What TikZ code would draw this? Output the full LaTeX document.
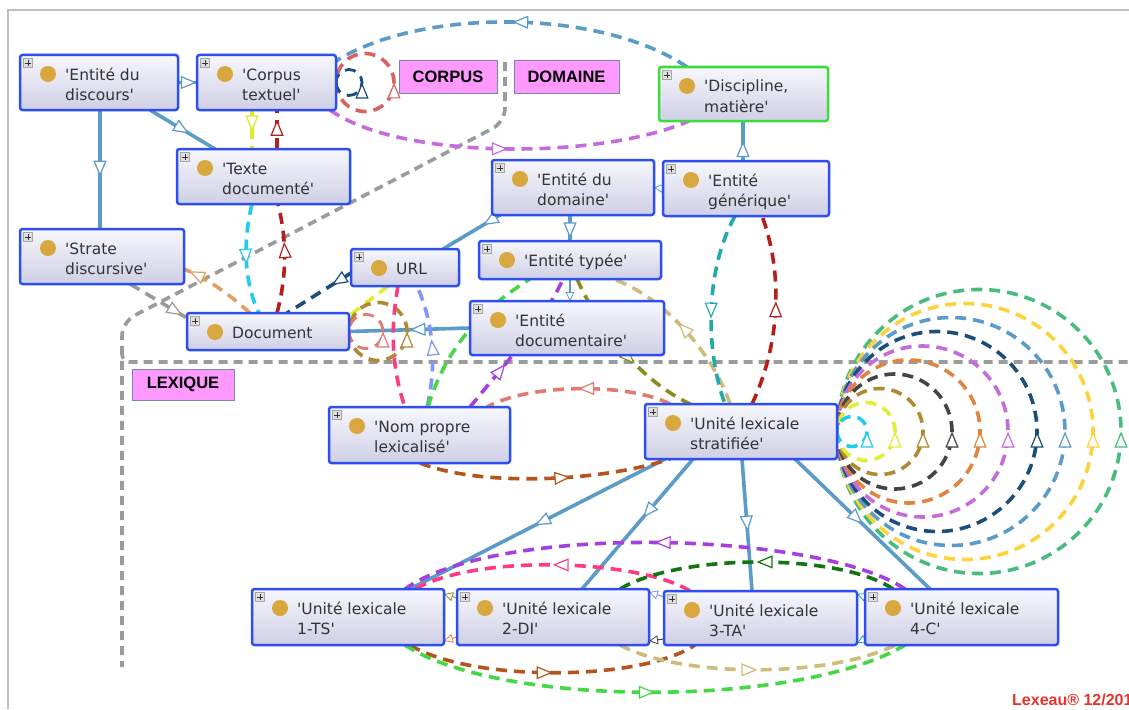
\documentclass[tikz,border=0pt]{standalone}
\usepackage{fontspec}
\setmainfont{DejaVu Sans}[Ligatures=TeXOff]
\newfontfamily\lblfont{Liberation Sans}
\usetikzlibrary{arrows.meta,decorations.markings,fit,backgrounds}
\pgfdeclarelayer{bottom}
\pgfsetlayers{bottom,background,main}
\definecolor{steel}{HTML}{5B9BC8}
\definecolor{nodeblue}{HTML}{2C4EF2}
\definecolor{discgreen}{HTML}{3EDB3E}
\definecolor{topfill}{HTML}{F7F7FC}
\definecolor{botfill}{HTML}{CFCFE6}
\definecolor{dotgold}{HTML}{D8A73E}
\definecolor{lblpink}{HTML}{FF99FF}
\definecolor{lblborder}{HTML}{7088B8}
\definecolor{bgray}{HTML}{9B9B9B}
\definecolor{framec}{HTML}{C0C0C0}
\definecolor{cNavy}{HTML}{1B4F7A}
\definecolor{cOrchid}{HTML}{C76BDC}
\definecolor{cLRed}{HTML}{D9625E}
\definecolor{cYellow}{HTML}{D8F020}
\definecolor{cDRed}{HTML}{B3201C}
\definecolor{cCyan}{HTML}{22CCEE}
\definecolor{cSandy}{HTML}{E0A060}
\definecolor{cGrayE}{HTML}{999999}
\definecolor{cYG}{HTML}{DDEE33}
\definecolor{cPink}{HTML}{FF3A80}
\definecolor{cPeri}{HTML}{8095F5}
\definecolor{cGreen}{HTML}{44D844}
\definecolor{cPurple}{HTML}{A63FE0}
\definecolor{cOlive}{HTML}{8C8C1E}
\definecolor{cKhaki}{HTML}{CDBC7A}
\definecolor{cTeal}{HTML}{22A9A9}
\definecolor{cSalmon}{HTML}{E27B6F}
\definecolor{cBrown}{HTML}{B5541B}
\definecolor{cDGreen}{HTML}{127512}
\definecolor{cGoldBr}{HTML}{B08932}
\definecolor{cDGray}{HTML}{444444}
\definecolor{cOrange}{HTML}{E0843F}
\definecolor{cGold}{HTML}{FFD23A}
\definecolor{cSea}{HTML}{47BC7C}
\definecolor{lexred}{HTML}{E8332C}
\tikzset{
  clsbox/.style={draw=nodeblue, line width=2.5pt, rounded corners=2.5pt, top color=topfill, bottom color=botfill, inner sep=0pt, outer sep=0pt},
  plusbox/.style={draw=gray!70, fill=gray!25, minimum size=9pt, inner sep=0pt, line width=0.5pt,
     path picture={\draw[line width=0.7pt,black!80] ([xshift=-3pt]path picture bounding box.center) -- ([xshift=3pt]path picture bounding box.center)
       ([yshift=-3pt]path picture bounding box.center) -- ([yshift=3pt]path picture bounding box.center);}},
  golddot/.style={circle, fill=dotgold, minimum size=16pt, inner sep=0pt},
  ntext/.style={anchor=base west, inner sep=0pt, font=\fontsize{15.5}{19}\selectfont, text=black!80},
  lbl/.style={draw=lblborder, fill=lblpink, line width=1pt, inner sep=0pt, font=\lblfont\bfseries\fontsize{16.5}{19}\selectfont},
  sub/.style={draw=steel, line width=3.6pt},
  dsh/.style={line width=3.6pt, dash pattern=on 11pt off 7pt},
  thinl/.style={line width=1pt},
  bound/.style={draw=bgray, line width=3.6pt, dash pattern=on 9pt off 6pt},
  midarr/.style={postaction={decorate,decoration={markings,mark=at position #1 with {\arrow{Triangle[length=16pt,width=13pt,fill=white,line width=1.2pt]}}}}},
  midarr/.default=0.5,
  smallarr/.style={-{Triangle[length=9pt,width=9pt,fill=white,line width=0.8pt]}}
}
\newcommand\ccls[8][]{%
  \node[clsbox,#1, fit={(#3,#4) (#5,#6)}] (#2) {};
  \node[plusbox] (#2p) at (#3+8,#4+8) {};
  \node[golddot] (#2d) at (#3+28,#4+19) {};
  \node[ntext] (#2a) at (#3+45,#4+25) {#7};
  \if\relax\detokenize{#8}\relax\else\node[ntext] (#2b) at (#3+45,#4+45) {#8};\fi
}
\begin{document}
\begin{tikzpicture}[x=1pt,y=-1pt]
\useasboundingbox (0,0) rectangle (1129,709);
\begin{pgfonlayer}{bottom}
\fill[white] (0,0) rectangle (1129,709);
\end{pgfonlayer}

% classes
\ccls{ed}{20}{55}{178}{110}{'Entité du}{discours'}
\ccls{ct}{197}{55}{336}{110}{'Corpus}{textuel'}
\ccls{td}{177}{149}{350}{204}{'Texte}{documenté'}
\ccls{sd}{20}{229}{184}{284}{'Strate}{discursive'}
\ccls{doc}{187}{313}{349}{350}{Document}{}
\ccls{url}{351}{249}{459}{286}{URL}{}
\ccls{edom}{492}{160}{654}{215}{'Entité du}{domaine'}
\ccls{egen}{663}{161}{829}{216}{'Entité}{générique'}
\ccls[draw=discgreen]{disc}{659}{67}{828}{121}{'Discipline,}{matière'}
\ccls{etyp}{479}{241}{661}{279}{'Entité typée'}{}
\ccls{edoc}{470}{301}{664}{355}{'Entité}{documentaire'}
\ccls{npl}{329}{407}{510}{463}{'Nom propre}{lexicalisé'}
\ccls{uls}{645}{404}{837}{459}{'Unité lexicale}{stratifiée'}
\ccls{ul1}{252}{589}{444}{645}{'Unité lexicale}{1-TS'}
\ccls{ul2}{457}{589}{649}{645}{'Unité lexicale}{2-DI'}
\ccls{ul3}{664}{591}{857}{645}{'Unité lexicale}{3-TA'}
\ccls{ul4}{865}{589}{1058}{645}{'Unité lexicale}{4-C'}

% labels
\node[lbl, minimum width=98pt, minimum height=32pt] (corpus) at (448,77) {CORPUS};
\node[lbl, minimum width=105pt, minimum height=32pt] (domaine) at (566.5,77) {DOMAINE};
\node[lbl, minimum width=102pt, minimum height=31pt] (lexique) at (183,384.5) {LEXIQUE};
\node[anchor=base west, inner sep=0pt, text=lexred, font=\lblfont\bfseries\fontsize{16}{18}\selectfont] (lex) at (1012,705) {Lexeau® 12/2018};

\begin{scope}[on background layer]
% frame
\draw[framec, line width=1.2pt] (8,709) -- (8,10) -- (1129,10);
% boundaries
\draw[bound, rounded corners=14pt] (505,62) -- (505,122) -- (122,322) -- (122,667);
\draw[bound, rounded corners=8pt] (122,350) -- (122,362) -- (1129,362);

% subclass links
\draw[sub, midarr=0.99] (ed.east) -- (ct.west);
\draw[sub, midarr=0.6] ([xshift=130pt]ed.south west) -- ([xshift=38pt]td.north west);
\draw[sub, midarr=0.56] ([xshift=80pt]ed.south west) -- ([xshift=80pt]sd.north west);
\draw[sub, midarr=0.5] (edoc.west) -- (doc.east);
\draw[sub, midarr=0.3] ([xshift=8pt]edom.south west) -- ([xshift=92pt]url.north west);
\draw[sub, midarr=0.9] ([xshift=78pt]edom.south west) -- ([xshift=91pt]etyp.north west);
\draw[sub, line width=1.5pt, smallarr] ([xshift=91pt]etyp.south west) -- ([xshift=100pt]edoc.north west);
\draw[sub, line width=1.5pt, smallarr] (egen.west) -- (edom.east);
\draw[sub, midarr=0.5] ([xshift=80pt]egen.north west) -- ([xshift=84pt]disc.south west);
\draw[sub, midarr=0.51] ([xshift=20pt]uls.south west) -- ([xshift=158pt]ul1.north west);
\draw[sub, midarr=0.45] ([xshift=48pt]uls.south west) -- ([xshift=125pt]ul2.north west);
\draw[sub, midarr=0.55] ([xshift=97pt]uls.south west) -- ([xshift=88pt]ul3.north west);
\draw[sub, midarr=0.5] ([xshift=150pt]uls.south west) -- ([xshift=65pt]ul4.north west);

% object property links (upper part)
\draw[dsh, cNavy, midarr=0.3] ([yshift=-24pt]url.north west) -- ([xshift=100pt]doc.north west);
\draw[dsh, steel, midarr=0.5] ([xshift=28pt]disc.north west) .. controls (600,8) and (420,8) .. ([yshift=-6pt]ct.north east);
\draw[dsh, cOrchid, midarr=0.5] ([xshift=-6pt]ct.south east) .. controls (400,160) and (600,160) .. ([xshift=30pt]disc.south west);
\draw[dsh, cLRed, midarr=0.5] (ct.east) arc[start angle=180, end angle=-180, radius=29];
\draw[dsh, cNavy, line width=2.8pt, midarr=0.5] (ct.east) arc[start angle=180, end angle=-180, radius=13];
\draw[dsh, cYellow, midarr=0.55] ([xshift=55pt]ct.south west) -- ([xshift=75pt]td.north west);
\draw[dsh, cDRed, midarr=0.75] ([xshift=100pt]td.north west) -- ([xshift=80pt]ct.south west);
\draw[dsh, cCyan, midarr=0.55] ([xshift=75pt]td.south west) .. controls (242,245) and (245,285) .. ([xshift=72pt]doc.north west);
\draw[dsh, cDRed, midarr=0.65] ([xshift=90pt]doc.north west) .. controls (287,275) and (287,240) .. ([xshift=101pt]td.south west);
\draw[dsh, cSandy, midarr=0.93] ([xshift=63pt]doc.north west) .. controls (230,295) and (210,280) .. ([yshift=-40pt]sd.north east);
\draw[dsh, cGrayE, midarr=0.92] ([xshift=110pt]sd.south west) -- ([yshift=-5pt]doc.north west);
\draw[dsh, cYG] ([xshift=37pt]url.south west) -- ([yshift=-3pt]doc.north east);
\draw[dsh, cGoldBr, midarr=0.5] (doc.east) arc[start angle=180, end angle=-180, radius=29];
\draw[dsh, cSalmon, line width=2.8pt, midarr=0.5] (doc.east) arc[start angle=180, end angle=-180, radius=17];
\draw[dsh, cPink] ([xshift=47pt]url.south west) .. controls (390,330) and (392,370) .. ([xshift=76pt]npl.north west);
\draw[dsh, cPeri, midarr=0.55] ([xshift=98pt]npl.north west) .. controls (438,360) and (432,320) .. ([xshift=66pt]url.south west);
\draw[dsh, cGreen] ([xshift=99pt]npl.north west) .. controls (445,350) and (480,310) .. ([xshift=51pt]etyp.south west);
\draw[dsh, cPurple, midarr=0.35] ([xshift=141pt]npl.north west) .. controls (500,370) and (545,320) .. ([xshift=84pt]etyp.south west);
\draw[dsh, cOlive, midarr=0.6] ([xshift=98pt]etyp.south west) .. controls (600,330) and (640,380) .. ([xshift=45pt]uls.north west);
\draw[dsh, cKhaki, midarr=0.55] ([xshift=85pt]uls.north west) .. controls (712,350) and (660,295) .. ([xshift=134pt]etyp.south west);
\draw[dsh, cTeal, midarr=0.55] ([xshift=72pt]egen.south west) .. controls (705,270) and (705,350) .. ([xshift=80pt]uls.north west);
\draw[dsh, cDRed, midarr=0.55] ([xshift=107pt]uls.north west) .. controls (782,340) and (782,270) .. ([xshift=99pt]egen.south west);
\draw[dsh, cSalmon, midarr=0.5] ([xshift=25pt]uls.north west) .. controls (630,383) and (530,383) .. ([xshift=158pt]npl.north west);
\draw[dsh, cBrown, midarr=0.6] ([xshift=91pt]npl.south west) .. controls (480,487) and (600,482) .. ([xshift=25pt]uls.south west);

% self loops of 'Unité lexicale stratifiée'
\draw[dsh, cSea, midarr=0.5] (uls.east) arc[start angle=180, end angle=-180, radius=142];
\draw[dsh, cGold, midarr=0.5] (uls.east) arc[start angle=180, end angle=-180, radius=128];
\draw[dsh, steel, midarr=0.5] (uls.east) arc[start angle=180, end angle=-180, radius=114];
\draw[dsh, cNavy, midarr=0.5] (uls.east) arc[start angle=180, end angle=-180, radius=100];
\draw[dsh, cOrchid, midarr=0.5] (uls.east) arc[start angle=180, end angle=-180, radius=85.5];
\draw[dsh, cOrange, midarr=0.5] (uls.east) arc[start angle=180, end angle=-180, radius=71.5];
\draw[dsh, cDGray, midarr=0.5] (uls.east) arc[start angle=180, end angle=-180, radius=57.5];
\draw[dsh, cGoldBr, midarr=0.5] (uls.east) arc[start angle=180, end angle=-180, radius=43];
\draw[dsh, cYG, midarr=0.5] (uls.east) arc[start angle=180, end angle=-180, radius=29];
\draw[dsh, cCyan, midarr=0.5] (uls.east) arc[start angle=180, end angle=-180, radius=15];

% bottom links
\draw[dsh, cPurple, midarr=0.5] ([xshift=40pt]ul4.north west) .. controls (820,532) and (500,522) .. ([xshift=153pt]ul1.north west);
\draw[dsh, cPink, midarr=0.5] ([xshift=26pt]ul3.north west) .. controls (640,560) and (480,553) .. ([xshift=163pt]ul1.north west);
\draw[dsh, cDGreen, midarr=0.5] ([xshift=28pt]ul4.north west) .. controls (840,553) and (680,553) .. ([xshift=163pt]ul2.north west);
\draw[dsh, cBrown, midarr=0.5] ([xshift=158pt]ul1.south west) .. controls (470,682) and (640,682) .. ([xshift=31pt]ul3.south west);
\draw[dsh, cKhaki, midarr=0.5] ([xshift=163pt]ul2.south west) .. controls (680,678) and (830,678) .. ([xshift=30pt]ul4.south west);
\draw[dsh, cGreen, midarr=0.5] ([xshift=153pt]ul1.south west) .. controls (500,708) and (800,708) .. ([xshift=40pt]ul4.south west);
% small links in the gaps
\draw[thinl, cOlive, smallarr] ([yshift=-9pt]ul2.north west) -- ([yshift=-5pt]ul1.north east);
\draw[thinl, cOrange, smallarr] ([yshift=-48pt]ul2.north west) -- ([yshift=-52pt]ul1.north east);
\draw[thinl, cPeri, smallarr] ([yshift=-6pt]ul3.north west) -- ([yshift=-3pt]ul2.north east);
\draw[thinl, cDGray, smallarr] ([yshift=-48pt]ul3.north west) -- ([yshift=-52pt]ul2.north east);
\draw[thinl, cTeal, smallarr] ([yshift=-8pt]ul4.north west) -- ([yshift=-3pt]ul3.north east);
\draw[thinl, cTeal, smallarr] ([yshift=-50pt]ul4.north west) -- ([yshift=-52pt]ul3.north east);
\end{scope}
\end{tikzpicture}
\end{document}
